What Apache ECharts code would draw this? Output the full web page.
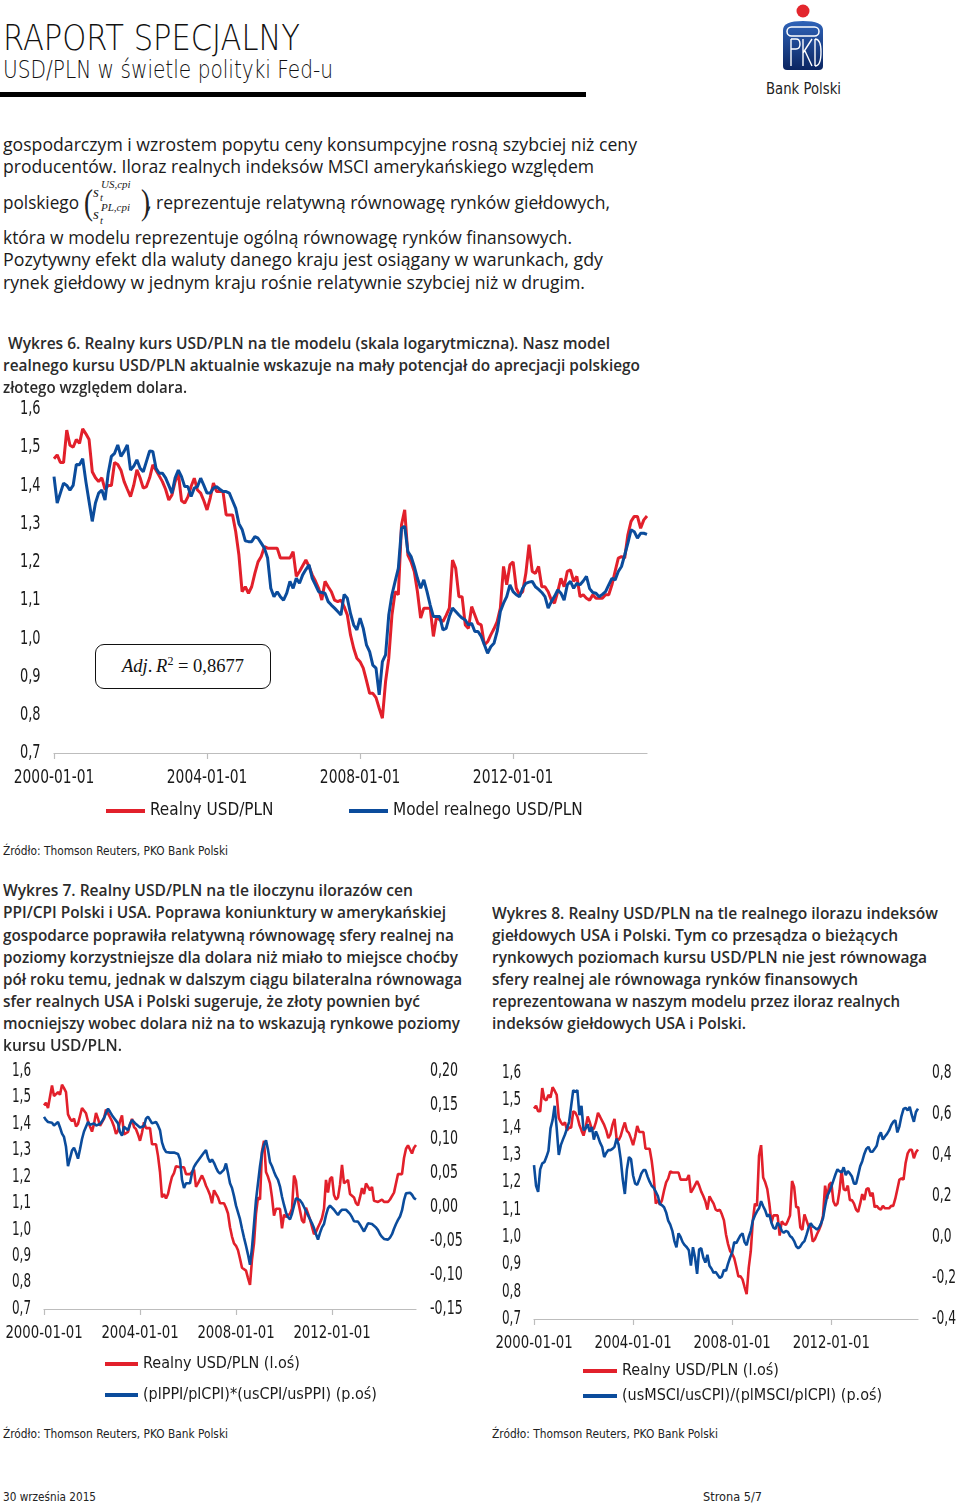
<!DOCTYPE html>
<html lang="pl">
<head>
<meta charset="utf-8">
<script src="https://cdn.jsdelivr.net/npm/echarts/dist/echarts.min.js"></script>
<style>
  html,body{margin:0;padding:0;background:#fff;}
  #page{position:relative;width:960px;height:1506px;overflow:hidden;background:#fff;color:#1a1a1a;}
  .ln{position:absolute;white-space:nowrap;transform-origin:0 50%;}
  .chart{position:absolute;}
  #rbox{position:absolute;left:95px;top:644px;width:176px;height:45px;box-sizing:border-box;border:1.6px solid #111;border-radius:9px;
        font-family:"Liberation Serif","DejaVu Serif",serif;font-size:18.5px;line-height:42px;text-align:center;color:#111;}
  #rbox sup{font-size:12px;line-height:0;}
</style>
</head>
<body>
<div id="page">
  <div id="rule" style="position:absolute;left:0;top:92px;width:586px;height:5px;background:#000;"></div>
  <svg style="position:absolute;left:776px;top:0" width="56" height="80" viewBox="0 0 56 80">
    <defs>
      <linearGradient id="lg" x1="0" y1="0" x2="0" y2="1">
        <stop offset="0" stop-color="#2f63b8"/><stop offset="1" stop-color="#0b2561"/>
      </linearGradient>
    </defs>
    <circle cx="27" cy="11" r="6.5" fill="#e3262d"/>
    <path d="M7 30 Q7 21 27 21 Q47 21 47 30 V66 Q47 70 43 70 H11 Q7 70 7 66 Z" fill="url(#lg)"/>
    <rect x="11" y="27" width="32" height="9" rx="4.5" fill="none" stroke="#fff" stroke-width="1.5"/>
    <path d="M15 39 V66 M15 39 H20 Q24 39 24 44 Q24 49 20 49 H15 M27 39 V66 M27 53 L36 39 M29 51 L36 66 M39 39 V66 M39 39 Q45 39 45 52 Q45 66 39 66" fill="none" stroke="#fff" stroke-width="1.4"/>
  </svg>
  <div id="rbox"><i>Adj</i>.&#8201;<i>R</i><sup>2</sup> = 0,8677</div>
  <div id="c6" class="chart" style="left:0;top:395px;width:660px;height:440px;"></div>
  <div id="c7" class="chart" style="left:0;top:1055px;width:480px;height:360px;"></div>
  <div id="c8" class="chart" style="left:480px;top:1055px;width:480px;height:360px;"></div>
</div>
<script>
// ---------------- DATA ----------------
const startYear = 2000;
const monthCount = 187; // 2000-01 .. 2015-07
const categories = [];
for (let i = 0; i < monthCount; i++) {
  const y = startYear + Math.floor(i / 12), m = (i % 12) + 1;
  categories.push(y + '-' + String(m).padStart(2, '0') + '-01');
}
const xTickLabels = ['2000-01-01', '2004-01-01', '2008-01-01', '2012-01-01'];
const leftTicks = [0.7, 0.8, 0.9, 1.0, 1.1, 1.2, 1.3, 1.4, 1.5, 1.6];
const right7Ticks = [-0.15, -0.10, -0.05, 0, 0.05, 0.10, 0.15, 0.20];
const right8Ticks = [-0.4, -0.2, 0, 0.2, 0.4, 0.6, 0.8];

// Realny USD/PLN (red, left axis in all three charts)
const realUsdPln = [
 1.47,1.48,1.46,1.46,1.545,1.505,1.50,1.52,1.51,1.548,1.535,1.52,
 1.436,1.42,1.41,1.42,1.39,1.40,1.40,1.46,1.455,1.44,1.41,1.39,
 1.371,1.40,1.441,1.42,1.393,1.397,1.42,1.454,1.44,1.425,1.41,1.39,
 1.362,1.375,1.41,1.432,1.36,1.354,1.37,1.397,1.419,1.388,1.38,1.36,
 1.336,1.367,1.406,1.384,1.384,1.384,1.323,1.323,1.323,1.279,1.218,1.122,
 1.135,1.118,1.135,1.17,1.20,1.214,1.24,1.236,1.236,1.236,1.236,1.21,
 1.21,1.21,1.21,1.227,1.162,1.175,1.19,1.205,1.188,1.166,1.15,1.131,
 1.10,1.149,1.135,1.122,1.10,1.096,1.10,1.083,1.061,1.009,0.974,0.948,
 0.939,0.922,0.89,0.856,0.856,0.845,0.817,0.791,0.887,0.948,1.061,1.122,
 1.114,1.297,1.336,1.218,1.20,1.175,1.122,1.053,1.079,1.079,1.079,1.005,
 1.057,1.048,1.044,1.06,1.079,1.205,1.183,1.109,1.109,1.035,1.026,1.083,
 1.061,1.039,1.035,0.983,0.991,1.009,1.025,1.044,1.079,1.188,1.14,1.192,
 1.20,1.131,1.114,1.122,1.17,1.245,1.175,1.17,1.188,1.135,1.135,1.122,
 1.10,1.092,1.122,1.157,1.135,1.175,1.179,1.149,1.162,1.109,1.114,1.105,
 1.10,1.114,1.105,1.105,1.105,1.114,1.114,1.14,1.175,1.21,1.214,1.21,
 1.271,1.306,1.319,1.319,1.288,1.31,1.32
];

// Model realnego USD/PLN (blue, chart 6)
const modelUsdPln = [
 1.423,1.354,1.38,1.406,1.40,1.388,1.40,1.455,1.454,1.47,1.41,1.358,
 1.306,1.354,1.38,1.388,1.362,1.432,1.476,1.484,1.506,1.476,1.489,1.506,
 1.44,1.45,1.467,1.445,1.436,1.463,1.49,1.489,1.445,1.432,1.432,1.42,
 1.40,1.38,1.42,1.44,1.423,1.397,1.397,1.371,1.393,1.397,1.419,1.40,
 1.38,1.38,1.393,1.397,1.39,1.384,1.384,1.38,1.36,1.34,1.30,1.285,
 1.255,1.253,1.253,1.266,1.262,1.249,1.236,1.21,1.131,1.109,1.122,1.109,
 1.10,1.118,1.149,1.131,1.157,1.144,1.166,1.18,1.192,1.157,1.14,1.122,
 1.12,1.118,1.096,1.087,1.079,1.07,1.061,1.115,1.105,1.065,1.035,1.022,
 1.053,1.026,0.983,0.965,0.93,0.922,0.852,0.939,0.957,1.061,1.114,1.149,
 1.183,1.288,1.293,1.227,1.214,1.188,1.157,1.131,1.153,1.122,1.087,1.057,
 1.057,1.057,1.022,1.026,1.057,1.079,1.07,1.061,1.053,1.048,1.035,1.039,
 1.018,1.018,1.005,0.983,0.961,0.978,0.987,1.018,1.07,1.092,1.109,1.14,
 1.122,1.114,1.109,1.131,1.144,1.147,1.149,1.135,1.128,1.12,1.109,1.079,
 1.096,1.11,1.127,1.118,1.10,1.14,1.149,1.131,1.144,1.14,1.15,1.162,
 1.13,1.12,1.118,1.109,1.115,1.122,1.14,1.157,1.153,1.175,1.188,1.218,
 1.249,1.284,1.279,1.262,1.275,1.275,1.272
];

// (plPPI/plCPI)*(usCPI/usPPI) (blue, chart 7, right axis)
const ppiCpiRatio = [
 0.1325,0.128,0.125,0.127,0.124,0.12,0.122,0.125,0.117,0.108,0.103,0.0885,
 0.06,0.062,0.083,0.087,0.08,0.071,0.085,0.1,0.111,0.118,0.125,0.121,
 0.12,0.123,0.12,0.118,0.122,0.126,0.131,0.138,0.1447,0.14,0.135,0.131,
 0.127,0.123,0.11,0.105,0.118,0.116,0.113,0.122,0.128,0.126,0.122,0.12,
 0.117,0.116,0.119,0.13,0.133,0.128,0.123,0.121,0.125,0.12,0.113,0.095,
 0.086,0.081,0.081,0.08,0.079,0.08,0.081,0.078,0.07,0.04,0.028,0.035,
 0.033,0.035,0.05,0.059,0.064,0.068,0.072,0.076,0.08,0.0836,0.072,0.066,
 0.07,0.065,0.058,0.052,0.049,0.047,0.055,0.064,0.05,0.035,0.028,0.016,
 0.002,-0.008,-0.018,-0.032,-0.045,-0.057,-0.07,-0.085,-0.06,-0.025,0.01,0.035,
 0.06,0.08,0.091,0.098,0.084,0.066,0.06,0.052,0.045,0.04,0.03,0.015,
 0.003,-0.008,-0.015,-0.018,-0.01,0.002,0.0128,0.0128,0.01,0.006,0.0,-0.006,
 -0.012,-0.018,-0.024,-0.031,-0.04,-0.048,-0.038,-0.03,-0.025,-0.012,-0.002,0.002,
 0.0,-0.004,-0.008,-0.0117,-0.007,-0.004,-0.002,-0.004,-0.007,-0.01,-0.015,-0.021,
 -0.0215,-0.0215,-0.026,-0.031,-0.036,-0.03,-0.024,-0.024,-0.025,-0.026,-0.03,-0.034,
 -0.04,-0.044,-0.047,-0.048,-0.048,-0.045,-0.04,-0.032,-0.025,-0.019,-0.014,-0.005,
 0.01,0.02,0.022,0.021,0.018,0.013,0.011
];

// (usMSCI/usCPI)/(plMSCI/plCPI) (blue, chart 8, right axis)
const msciRatio = [
 0.351,0.25,0.22,0.33,0.359,0.365,0.39,0.42,0.53,0.57,0.64,0.53,
 0.40,0.448,0.475,0.50,0.53,0.562,0.64,0.716,0.708,0.716,0.594,0.64,
 0.52,0.53,0.55,0.513,0.537,0.475,0.515,0.49,0.46,0.44,0.39,0.41,
 0.424,0.424,0.43,0.44,0.48,0.45,0.38,0.28,0.21,0.33,0.39,0.38,
 0.30,0.26,0.255,0.28,0.31,0.326,0.326,0.295,0.27,0.25,0.24,0.22,
 0.2,0.16,0.155,0.145,0.12,0.08,0.06,0.03,-0.02,-0.05,0.018,0.0,
 -0.025,-0.04,-0.05,-0.065,-0.14,-0.05,-0.1,-0.18,-0.06,-0.055,-0.1,-0.125,
 -0.087,-0.14,-0.155,-0.175,-0.17,-0.185,-0.2,-0.192,-0.16,-0.165,-0.13,-0.1,
 -0.075,-0.025,-0.03,-0.01,0.008,0.018,-0.025,-0.04,0.0,0.03,0.08,0.105,
 0.125,0.14,0.175,0.15,0.13,0.1,0.11,0.07,0.045,0.04,0.07,0.055,
 0.03,0.02,0.03,0.025,0.005,-0.003,-0.02,-0.045,-0.055,-0.046,-0.03,-0.02,
 0.01,0.045,0.067,0.052,0.045,0.037,0.045,0.065,0.092,0.15,0.2,0.22,
 0.245,0.275,0.305,0.33,0.32,0.315,0.34,0.302,0.322,0.31,0.295,0.26,
 0.26,0.302,0.345,0.37,0.405,0.43,0.44,0.416,0.416,0.43,0.445,0.49,
 0.51,0.475,0.49,0.503,0.52,0.545,0.562,0.57,0.51,0.54,0.59,0.625,
 0.63,0.618,0.635,0.594,0.562,0.61,0.626
];

const leftAxisTicks = { min: 0.7, max: 1.6, interval: 0.1 };
const rightAxis7 = { min: -0.15, max: 0.20, interval: 0.05 };
const rightAxis8 = { min: -0.4, max: 0.8, interval: 0.2 };

const seriesNames = {
  real: 'Realny USD/PLN',
  model: 'Model realnego USD/PLN',
  realL: 'Realny USD/PLN (l.oś)',
  ppi: '(plPPI/plCPI)*(usCPI/usPPI) (p.oś)',
  msci: '(usMSCI/usCPI)/(plMSCI/plCPI) (p.oś)'
};

// ---------------- TEXT ----------------
const BODY = '"Open Sans","Noto Sans",sans-serif';
const NARROW = '"DejaVu Sans Condensed","DejaVu Sans",sans-serif';
const HEAD = '"DejaVu Sans","DejaVu Sans Condensed",sans-serif';
const TW = 600, TC = '#2b2b2b', TF = 16.5;
const textLines = [
  {t:'RAPORT SPECJALNY', x:3, cy:37, w:297, fs:36, ff:HEAD, fw:200, c:'#111'},
  {t:'USD/PLN w świetle polityki Fed-u', x:3, cy:70, w:330, fs:24, ff:HEAD, fw:200, c:'#111'},
  {t:'Bank Polski', x:766, cy:89, w:75, fs:15, ff:NARROW, c:'#222'},

  {t:'gospodarczym i wzrostem popytu ceny konsumpcyjne rosną szybciej niż ceny', x:3, cy:145, w:634, fs:17.5},
  {t:'producentów. Iloraz realnych indeksów MSCI amerykańskiego względem', x:3, cy:167, w:591, fs:17.5},
  {t:'polskiego', x:3, cy:203, w:76, fs:17.5},
  {t:', reprezentuje relatywną równowagę rynków giełdowych,', x:147, cy:203, w:463, fs:17.5},
  {t:'która w modelu reprezentuje ogólną równowagę rynków finansowych.', x:3, cy:238, w:569, fs:17.5},
  {t:'Pozytywny efekt dla waluty danego kraju jest osiągany w warunkach, gdy', x:3, cy:260, w:600, fs:17.5},
  {t:'rynek giełdowy w jednym kraju rośnie relatywnie szybciej niż w drugim.', x:3, cy:283, w:582, fs:17.5},

  {t:'Wykres 6. Realny kurs USD/PLN na tle modelu (skala logarytmiczna). Nasz model', x:8, cy:343, w:602, fs:TF, fw:TW, c:TC},
  {t:'realnego kursu USD/PLN aktualnie wskazuje na mały potencjał do aprecjacji polskiego', x:3, cy:365, w:637, fs:TF, fw:TW, c:TC},
  {t:'złotego względem dolara.', x:3, cy:387, w:184, fs:TF, fw:TW, c:TC},
  {t:'Źródło: Thomson Reuters, PKO Bank Polski', x:3, cy:851, w:225, fs:12, ff:NARROW, c:'#222'},

  {t:'Wykres 7. Realny USD/PLN na tle iloczynu ilorazów cen', x:3, cy:890, w:410, fs:TF, fw:TW, c:TC},
  {t:'PPI/CPI Polski i USA. Poprawa koniunktury w amerykańskiej', x:3, cy:912, w:443, fs:TF, fw:TW, c:TC},
  {t:'gospodarce poprawiła relatywną równowagę sfery realnej na', x:3, cy:935, w:451, fs:TF, fw:TW, c:TC},
  {t:'poziomy korzystniejsze dla dolara niż miało to miejsce choćby', x:3, cy:957, w:455, fs:TF, fw:TW, c:TC},
  {t:'pół roku temu, jednak w dalszym ciągu bilateralna równowaga', x:3, cy:979, w:459, fs:TF, fw:TW, c:TC},
  {t:'sfer realnych USA i Polski sugeruje, że złoty pownien być', x:3, cy:1001, w:417, fs:TF, fw:TW, c:TC},
  {t:'mocniejszy wobec dolara niż na to wskazują rynkowe poziomy', x:3, cy:1023, w:457, fs:TF, fw:TW, c:TC},
  {t:'kursu USD/PLN.', x:3, cy:1045, w:119, fs:TF, fw:TW, c:TC},

  {t:'Wykres 8. Realny USD/PLN na tle realnego ilorazu indeksów', x:492, cy:913, w:446, fs:TF, fw:TW, c:TC},
  {t:'giełdowych USA i Polski. Tym co przesądza o bieżących', x:492, cy:935, w:406, fs:TF, fw:TW, c:TC},
  {t:'rynkowych poziomach kursu USD/PLN nie jest równowaga', x:492, cy:957, w:435, fs:TF, fw:TW, c:TC},
  {t:'sfery realnej ale równowaga rynków finansowych', x:492, cy:979, w:366, fs:TF, fw:TW, c:TC},
  {t:'reprezentowana w naszym modelu przez iloraz realnych', x:492, cy:1001, w:408, fs:TF, fw:TW, c:TC},
  {t:'indeksów giełdowych USA i Polski.', x:492, cy:1023, w:254, fs:TF, fw:TW, c:TC},

  {t:'Źródło: Thomson Reuters, PKO Bank Polski', x:3, cy:1434, w:225, fs:12, ff:NARROW, c:'#222'},
  {t:'Źródło: Thomson Reuters, PKO Bank Polski', x:492, cy:1434, w:226, fs:12, ff:NARROW, c:'#222'},
  {t:'30 września 2015', x:3, cy:1497, w:93, fs:12, ff:NARROW, c:'#222'},
  {t:'Strona 5/7', x:703, cy:1497, w:59, fs:12, ff:NARROW, c:'#222'}
];
// formula pieces (s_t^{US,cpi} / s_t^{PL,cpi})
const SERIF = '"Liberation Serif","DejaVu Serif",serif';
const formula = [
  {t:'(', x:84, cy:202, fs:36, ff:SERIF, c:'#222', w:9},
  {t:')', x:141, cy:202, fs:36, ff:SERIF, c:'#222', w:9},
  {t:'s', x:93, cy:192, fs:15, ff:SERIF, it:1},
  {t:'US,cpi', x:101, cy:185, fs:11, ff:SERIF, it:1},
  {t:'t', x:100, cy:198, fs:10.5, ff:SERIF, it:1},
  {t:'s', x:93, cy:214, fs:15, ff:SERIF, it:1},
  {t:'PL,cpi', x:101, cy:208, fs:11, ff:SERIF, it:1},
  {t:'t', x:100, cy:221, fs:10.5, ff:SERIF, it:1}
];

const page = document.getElementById('page');
function addLine(o){
  const d = document.createElement('div');
  d.className = 'ln';
  d.textContent = o.t;
  const lh = o.fs * 1.25;
  d.style.left = o.x + 'px';
  d.style.top = (o.cy - lh / 2) + 'px';
  d.style.fontSize = o.fs + 'px';
  d.style.lineHeight = lh + 'px';
  d.style.fontFamily = o.ff || BODY;
  d.style.fontWeight = o.fw || 400;
  d.style.color = o.c || '#1a1a1a';
  if (o.it) d.style.fontStyle = 'italic';
  page.appendChild(d);
  if (o.w) {
    const nat = d.getBoundingClientRect().width;
    if (nat > 0) d.style.transform = 'scaleX(' + (o.w / nat) + ')';
  }
}
textLines.forEach(addLine);
formula.forEach(addLine);

// ---------------- CHARTS ----------------
const RED = '#e2202b';
const BLUE = '#0b4c9c';
const AX = '#bdbdbd';
const lblColor = '#1a1a1a';
const LBL_FONT = '"DejaVu Sans Condensed","DejaVu Sans",sans-serif';
const fmt1 = v => (Math.round(v * 10) / 10).toFixed(1).replace('.', ',');
const fmt2 = v => (Math.round(v * 100) / 100).toFixed(2).replace('.', ',');

function xAxisCfg(){
  return {
    type:'category', data:categories, boundaryGap:false,
    axisLine:{onZero:false, lineStyle:{color:AX, width:1.2}},
    axisTick:{interval:47, length:6, lineStyle:{color:AX, width:1.2}},
    axisLabel:{show:false}
  };
}
function yAxisCfg(r, pos){
  return {
    type:'value', min:r.min, max:r.max, interval:r.interval, position:pos,
    axisLine:{show:false}, axisTick:{show:false}, splitLine:{show:false}, axisLabel:{show:false}
  };
}
function lineSeries(name, data, color, width, yIdx){
  return {name:name, type:'line', data:data, yAxisIndex:yIdx || 0, showSymbol:false, symbol:'none',
          lineStyle:{color:color, width:width}, itemStyle:{color:color}, silent:true};
}
function legendCfg(name, left, top, w, fs){
  return {data:[name], left:left, top:top, icon:'rect', itemWidth:w, itemHeight:4, padding:0,
          textStyle:{fontSize:fs, color:lblColor, fontFamily:LBL_FONT, lineHeight:22}, selectedMode:false};
}
// tick labels drawn at positions given by the chart's own axes (narrowed text)
function txt(text, x, y, fs, sx, align){
  return {type:'text', x:x, y:y, scaleX:sx, silent:true,
          style:{text:text, font:fs + 'px ' + LBL_FONT, fill:lblColor,
                 align:align, verticalAlign:'middle', textAlign:align, textVerticalAlign:'middle'}};
}
function tickLabels(chart, s){
  const els = [];
  const axisY = chart.convertToPixel({yAxisIndex:0}, leftAxisTicks.min);
  xTickLabels.forEach(t => els.push(txt(t, chart.convertToPixel({xAxisIndex:0}, t), axisY + s.xOff, s.xFs, s.xSx, 'center')));
  leftTicks.forEach(v => els.push(txt(fmt1(v), s.leftX, chart.convertToPixel({yAxisIndex:0}, v), s.yFs, s.ySx, 'left')));
  if (s.right) s.right.ticks.forEach(v => els.push(txt(s.right.fmt(v), s.right.x, chart.convertToPixel({yAxisIndex:1}, v), s.yFs, s.right.sx, 'left')));
  chart.setOption({graphic: els});
}

const c6 = echarts.init(document.getElementById('c6'));
c6.setOption({
  animation:false,
  grid:{left:54, right:13, top:14, bottom:82},
  xAxis:xAxisCfg(),
  yAxis:yAxisCfg(leftAxisTicks, 'left'),
  legend:[legendCfg(seriesNames.real, 106, 405, 39, 17), legendCfg(seriesNames.model, 349, 405, 39, 17)],
  series:[lineSeries(seriesNames.real, realUsdPln, RED, 3), lineSeries(seriesNames.model, modelUsdPln, BLUE, 3)]
});
tickLabels(c6, {xOff:25, xFs:20, xSx:0.77, leftX:20, yFs:20, ySx:0.72});

const c7 = echarts.init(document.getElementById('c7'));
c7.setOption({
  animation:false,
  grid:{left:44, right:64, top:16, bottom:106},
  xAxis:xAxisCfg(),
  yAxis:[yAxisCfg(leftAxisTicks, 'left'), yAxisCfg(rightAxis7, 'right')],
  legend:[legendCfg(seriesNames.realL, 105, 298, 33, 16), legendCfg(seriesNames.ppi, 105, 329, 33, 16)],
  series:[lineSeries(seriesNames.realL, realUsdPln, RED, 2.6, 0), lineSeries(seriesNames.ppi, ppiCpiRatio, BLUE, 2.6, 1)]
});
tickLabels(c7, {xOff:24, xFs:18, xSx:0.82, leftX:12, yFs:19, ySx:0.70,
                right:{ticks:right7Ticks, fmt:fmt2, x:430, sx:0.74}});

const c8 = echarts.init(document.getElementById('c8'));
c8.setOption({
  animation:false,
  grid:{left:54, right:42, top:18, bottom:96},
  xAxis:xAxisCfg(),
  yAxis:[yAxisCfg(leftAxisTicks, 'left'), yAxisCfg(rightAxis8, 'right')],
  legend:[legendCfg(seriesNames.realL, 103, 305, 34, 16), legendCfg(seriesNames.msci, 103, 330, 34, 16)],
  series:[lineSeries(seriesNames.realL, realUsdPln, RED, 2.6, 0), lineSeries(seriesNames.msci, msciRatio, BLUE, 2.6, 1)]
});
tickLabels(c8, {xOff:24, xFs:18, xSx:0.82, leftX:22, yFs:19, ySx:0.70,
                right:{ticks:right8Ticks, fmt:fmt1, x:452, sx:0.72}});
</script>
</body>
</html>
